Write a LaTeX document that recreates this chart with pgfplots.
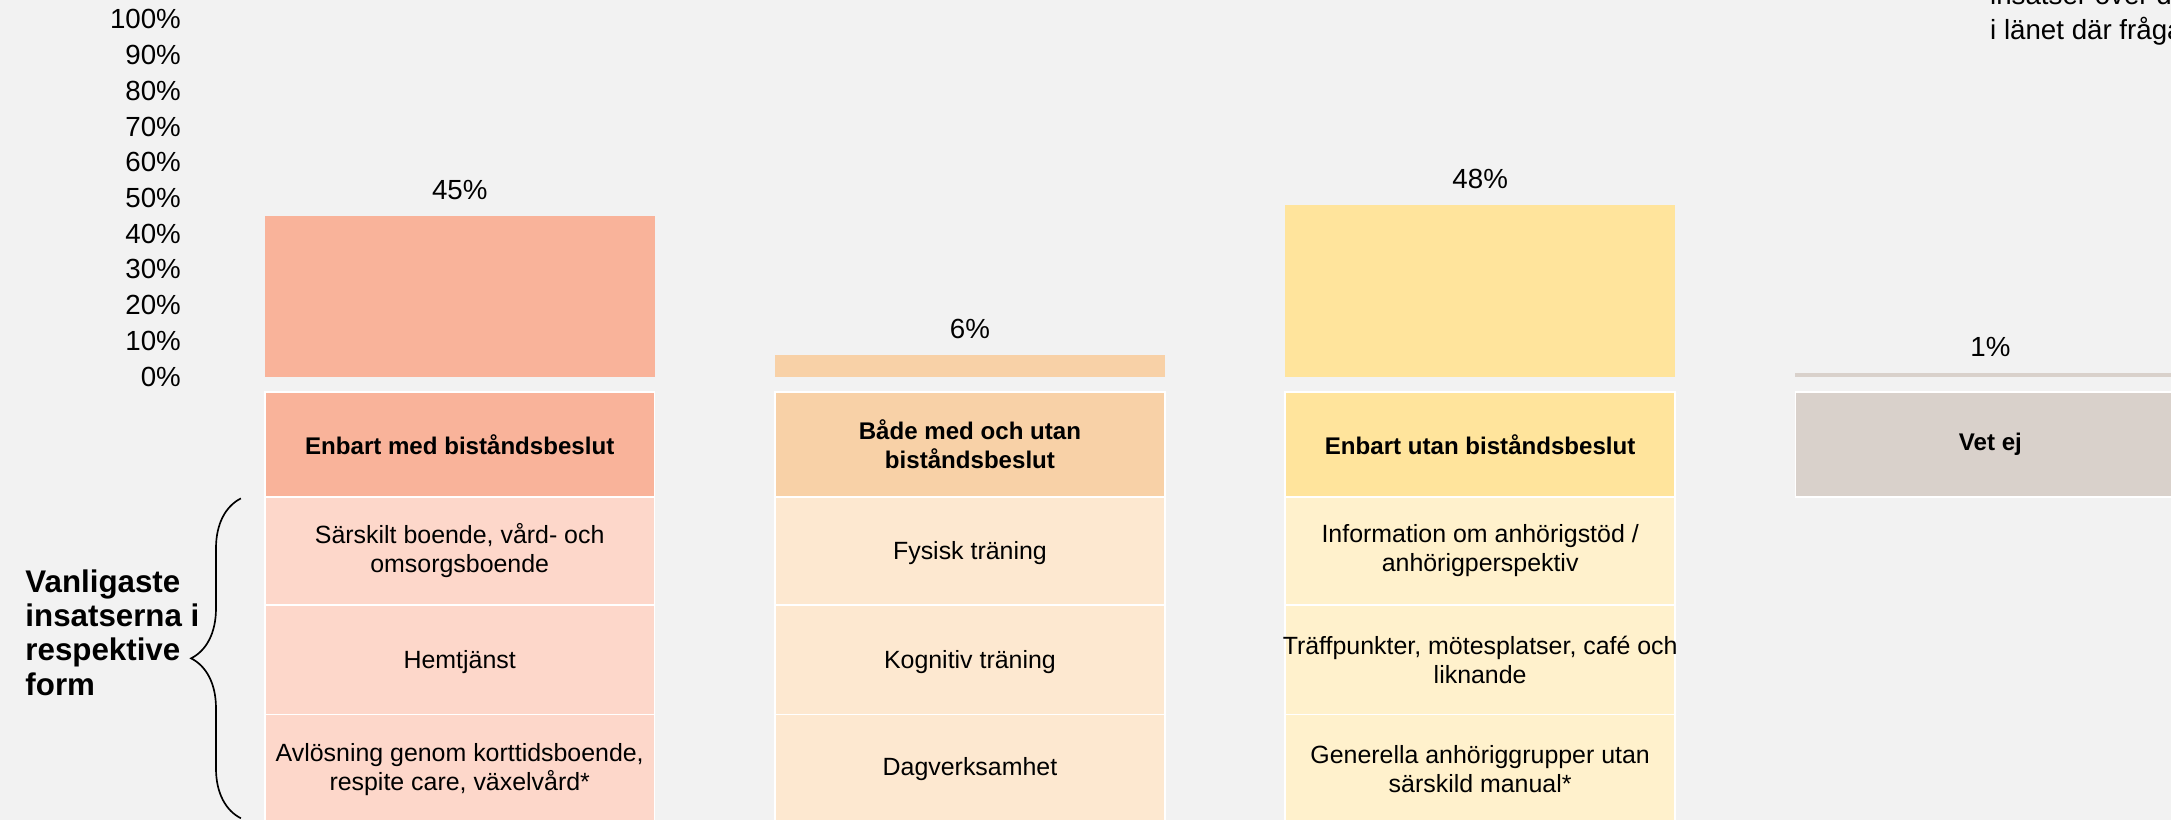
\documentclass[border=0pt]{standalone}
\usepackage{pgfplots}
\pgfplotsset{compat=1.18}
\usepackage{fontspec}
\setmainfont{Liberation Sans}
\usetikzlibrary{decorations.pathreplacing}
\definecolor{bg}{HTML}{F2F2F2}
\definecolor{cA}{HTML}{F9B39A}
\definecolor{cB}{HTML}{F8D1A7}
\definecolor{cC}{HTML}{FFE49C}
\definecolor{cD}{HTML}{D9D1CB}
\definecolor{lA}{HTML}{FDD7CA}
\definecolor{lB}{HTML}{FDE8D0}
\definecolor{lC}{HTML}{FFF1CC}
\tikzset{
  cellbox/.style={draw=white, line width=0.6pt},
  celltext/.style={align=center, inner sep=0pt, text=black, font=\fontsize{9.0}{10.5}\selectfont},
  headtext/.style={align=center, inner sep=0pt, text=black, font=\bfseries\fontsize{8.7}{10.5}\selectfont},
}
\pgfplotsset{
  mybar/.style={ybar, bar width=0.765, bar shift=0pt, draw=none, fill=#1,
    nodes near coords={\pgfmathprintnumber[assume math mode=true]{\pgfplotspointmeta}\%},
    nodes near coords style={anchor=base, yshift=6pt, text=black, font=\fontsize{10}{12}\selectfont}},
}
\begin{document}
\begin{tikzpicture}
\fill[bg] (0,0) rectangle (784pt,296pt);
\begin{scope}
\clip (0,0) rectangle (784pt,296pt);
\begin{axis}[
  at={(0,0)}, anchor=south west,
  scale only axis, width=784pt, height=296pt,
  xmin=-0.901, xmax=3.354, ymin=-124.03, ymax=105.43,
  axis line style={draw=none},
  major tick length=0pt,
  xtick=\empty,
  ytick={0,10,20,30,40,50,60,70,80,90,100},
  yticklabels={0\%,10\%,20\%,30\%,40\%,50\%,60\%,70\%,80\%,90\%,100\%},
  yticklabel style={anchor=east, inner sep=0pt, xshift=65.5pt, text=black, font=\fontsize{10}{12}\selectfont},
  clip=true,
]
\addplot[mybar=cA] coordinates {(0,45)};
\addplot[mybar=cB] coordinates {(1,6)};
\addplot[mybar=cC] coordinates {(2,48)};
\addplot[mybar=cD] coordinates {(3,1)};

% header row
\filldraw[fill=cA, cellbox] (-0.382,-4.26) rectangle (0.382,-33.72);
\filldraw[fill=cB, cellbox] (0.618,-4.26) rectangle (1.382,-33.72);
\filldraw[fill=cC, cellbox] (1.618,-4.26) rectangle (2.382,-33.72);
\filldraw[fill=cD, cellbox] (2.618,-4.26) rectangle (3.382,-33.72);
\node[headtext] at (0,-19.0) {Enbart med biståndsbeslut};
\node[headtext] at (1,-19.0) {Både med och utan\\biståndsbeslut};
\node[headtext] at (2,-19.0) {Enbart utan biståndsbeslut};
\node[headtext] at (3,-19.0) {Vet ej};

% rows column 1
\filldraw[fill=lA, cellbox] (-0.382,-33.72) rectangle (0.382,-63.95);
\filldraw[fill=lA, cellbox] (-0.382,-63.95) rectangle (0.382,-94.57);
\filldraw[fill=lA, cellbox] (-0.382,-94.57) rectangle (0.382,-126);
% rows column 2
\filldraw[fill=lB, cellbox] (0.618,-33.72) rectangle (1.382,-63.95);
\filldraw[fill=lB, cellbox] (0.618,-63.95) rectangle (1.382,-94.57);
\filldraw[fill=lB, cellbox] (0.618,-94.57) rectangle (1.382,-126);
% rows column 3
\filldraw[fill=lC, cellbox] (1.618,-33.72) rectangle (2.382,-63.95);
\filldraw[fill=lC, cellbox] (1.618,-63.95) rectangle (2.382,-94.57);
\filldraw[fill=lC, cellbox] (1.618,-94.57) rectangle (2.382,-126);

\node[celltext] at (0,-48.8) {Särskilt boende, vård- och\\omsorgsboende};
\node[celltext] at (0,-79.8) {Hemtjänst};
\node[celltext] at (0,-110.0) {Avlösning genom korttidsboende,\\respite care, växelvård*};
\node[celltext] at (1,-49.3) {Fysisk träning};
\node[celltext] at (1,-79.8) {Kognitiv träning};
\node[celltext] at (1,-110.0) {Dagverksamhet};
\node[celltext] at (2,-48.8) {Information om anhörigstöd /\\anhörigperspektiv};
\node[celltext] at (2,-79.3) {Träffpunkter, mötesplatser, café och\\liknande};
\node[celltext] at (2,-110.0) {Generella anhöriggrupper utan\\särskild manual*};
\end{axis}

\draw[decorate, decoration={brace, amplitude=18pt}, line width=0.6pt, black] (87pt,0.5pt) -- (87pt,116pt);
\node[anchor=west, align=left, inner sep=0pt, font=\bfseries\fontsize{11.3}{12.3}\selectfont] at (9pt,67.5pt) {Vanligaste\\insatserna i\\respektive\\form};
\node[anchor=base west, inner sep=0pt, font=\fontsize{10}{12}\selectfont] at (718.5pt,294.25pt) {insatser över de};
\node[anchor=base west, inner sep=0pt, font=\fontsize{10}{12}\selectfont] at (718.5pt,281.75pt) {i länet där frågan};
\end{scope}
\pgfresetboundingbox
\path[use as bounding box] (0,0) rectangle (784pt,296pt);
\end{tikzpicture}
\end{document}
